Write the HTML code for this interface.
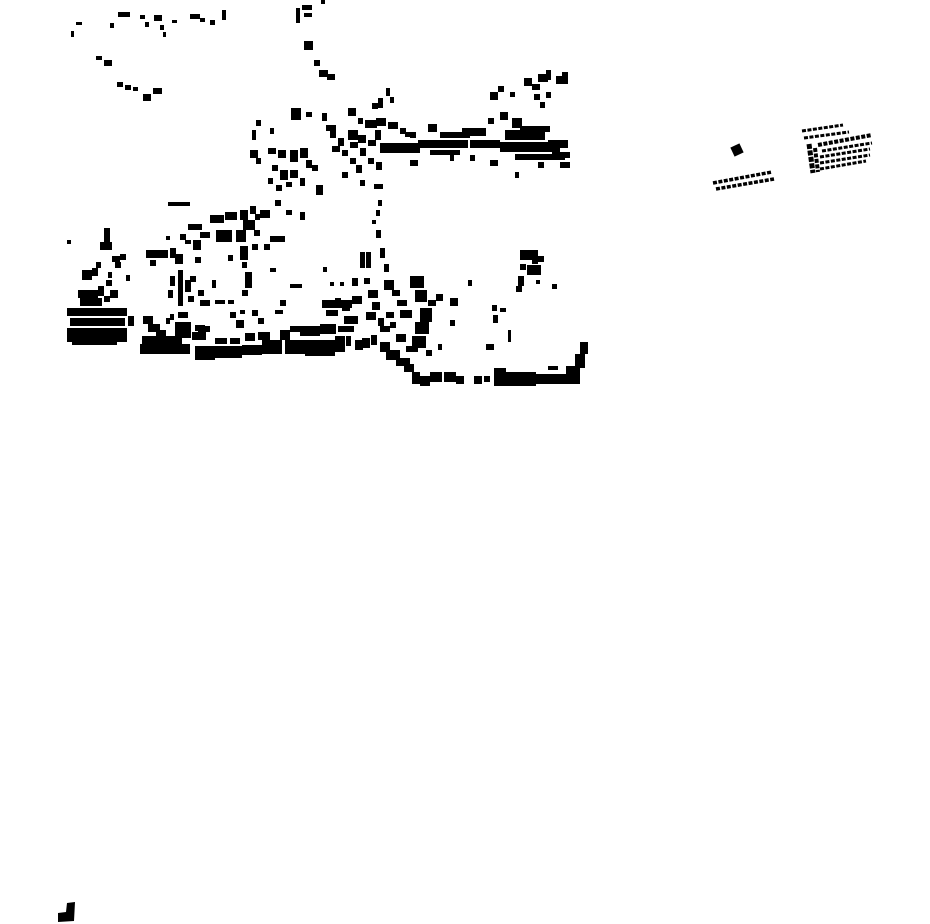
<!DOCTYPE html>
<html><head><meta charset="utf-8"><style>html,body{margin:0;padding:0;background:#fff}svg{display:block}</style></head>
<body>
<svg width="930" height="924" viewBox="0 0 930 924" xmlns="http://www.w3.org/2000/svg">
<g fill="#000">
<!-- top-left sparse -->
<rect x="71" y="31" width="3" height="6"/><rect x="76" y="22" width="6" height="3"/><rect x="110" y="23" width="4" height="5"/><rect x="118" y="12" width="12" height="5"/><rect x="140" y="15" width="5" height="4"/><rect x="145" y="22" width="4" height="5"/><rect x="154" y="15" width="8" height="6"/><rect x="160" y="25" width="4" height="5"/><rect x="163" y="32" width="3" height="5"/><rect x="172" y="20" width="5" height="3"/><rect x="190" y="14" width="10" height="5"/><rect x="200" y="18" width="5" height="4"/><rect x="210" y="20" width="5" height="5"/><rect x="222" y="10" width="4" height="10"/>
<rect x="96" y="56" width="6" height="4"/><rect x="104" y="60" width="8" height="6"/><rect x="117" y="82" width="6" height="5"/><rect x="125" y="85" width="6" height="5"/><rect x="133" y="87" width="5" height="4"/><rect x="143" y="94" width="8" height="7"/><rect x="153" y="88" width="9" height="6"/>
<rect x="296" y="8" width="4" height="15"/><rect x="302" y="5" width="10" height="5"/><rect x="304" y="13" width="8" height="4"/><rect x="321" y="0" width="4" height="4"/><rect x="304" y="41" width="9" height="9"/><rect x="314" y="60" width="6" height="6"/><rect x="319" y="70" width="9" height="7"/><rect x="327" y="74" width="8" height="6"/>
<!-- central upper cluster -->
<rect x="291" y="108" width="10" height="12"/><rect x="306" y="112" width="6" height="5"/><rect x="322" y="113" width="5" height="8"/><rect x="326" y="125" width="10" height="6"/><rect x="348" y="108" width="8" height="8"/><rect x="358" y="118" width="5" height="6"/><rect x="365" y="120" width="12" height="8"/><rect x="376" y="118" width="10" height="8"/><rect x="372" y="103" width="6" height="6"/><rect x="378" y="98" width="5" height="10"/><rect x="386" y="88" width="4" height="8"/><rect x="390" y="97" width="4" height="6"/><rect x="388" y="122" width="10" height="7"/><rect x="400" y="128" width="6" height="6"/><rect x="405" y="132" width="6" height="5"/>
<rect x="256" y="120" width="5" height="6"/><rect x="252" y="130" width="4" height="10"/><rect x="250" y="150" width="8" height="8"/><rect x="256" y="158" width="5" height="6"/><rect x="270" y="128" width="4" height="6"/><rect x="268" y="148" width="8" height="6"/><rect x="278" y="150" width="8" height="8"/><rect x="290" y="150" width="8" height="12"/><rect x="300" y="148" width="8" height="10"/><rect x="306" y="160" width="6" height="8"/><rect x="272" y="165" width="6" height="6"/><rect x="280" y="170" width="8" height="10"/><rect x="290" y="170" width="8" height="8"/><rect x="268" y="178" width="5" height="6"/><rect x="276" y="185" width="6" height="6"/><rect x="286" y="182" width="6" height="5"/><rect x="300" y="178" width="5" height="8"/><rect x="316" y="185" width="7" height="10"/><rect x="312" y="165" width="6" height="6"/><rect x="275" y="200" width="6" height="6"/><rect x="286" y="210" width="6" height="5"/><rect x="300" y="212" width="5" height="8"/>
<rect x="330" y="130" width="6" height="8"/><rect x="338" y="138" width="6" height="8"/><rect x="332" y="146" width="8" height="6"/><rect x="342" y="150" width="6" height="6"/><rect x="348" y="130" width="10" height="10"/><rect x="350" y="142" width="8" height="6"/><rect x="358" y="135" width="8" height="8"/><rect x="360" y="148" width="6" height="8"/><rect x="368" y="140" width="8" height="6"/><rect x="375" y="130" width="6" height="10"/><rect x="380" y="145" width="6" height="8"/><rect x="350" y="158" width="6" height="6"/><rect x="356" y="165" width="6" height="8"/><rect x="368" y="158" width="6" height="6"/><rect x="376" y="162" width="6" height="8"/><rect x="342" y="172" width="6" height="6"/><rect x="360" y="180" width="5" height="6"/><rect x="374" y="184" width="9" height="5"/><rect x="378" y="200" width="4" height="6"/><rect x="376" y="210" width="4" height="6"/><rect x="372" y="220" width="4" height="4"/>
<rect x="380" y="143" width="40" height="10"/><rect x="410" y="132" width="6" height="6"/><rect x="428" y="124" width="9" height="8"/><rect x="410" y="160" width="8" height="6"/>
<!-- east strip -->
<rect x="418" y="140" width="50" height="8"/><rect x="440" y="132" width="30" height="6"/><rect x="462" y="128" width="24" height="8"/><rect x="470" y="140" width="30" height="8"/><rect x="430" y="150" width="30" height="5"/><rect x="488" y="118" width="6" height="6"/><rect x="500" y="112" width="8" height="8"/><rect x="512" y="118" width="10" height="10"/><rect x="505" y="130" width="40" height="10"/><rect x="500" y="142" width="60" height="10"/><rect x="515" y="154" width="50" height="6"/><rect x="520" y="126" width="30" height="6"/><rect x="548" y="140" width="20" height="8"/><rect x="552" y="152" width="18" height="6"/><rect x="560" y="162" width="10" height="6"/><rect x="490" y="160" width="8" height="6"/><rect x="515" y="172" width="4" height="6"/><rect x="538" y="162" width="6" height="6"/><rect x="470" y="155" width="5" height="6"/><rect x="450" y="155" width="4" height="6"/>
<rect x="490" y="92" width="8" height="8"/><rect x="498" y="86" width="6" height="6"/><rect x="510" y="92" width="5" height="5"/><rect x="524" y="78" width="8" height="8"/><rect x="532" y="84" width="8" height="6"/><rect x="538" y="74" width="10" height="8"/><rect x="546" y="70" width="5" height="10"/><rect x="556" y="76" width="12" height="8"/><rect x="562" y="72" width="6" height="6"/><rect x="534" y="94" width="6" height="6"/><rect x="540" y="102" width="5" height="6"/><rect x="546" y="92" width="5" height="6"/>
<!-- middle west -->
<rect x="168" y="202" width="22" height="4"/><rect x="210" y="215" width="14" height="8"/><rect x="225" y="212" width="12" height="8"/><rect x="240" y="210" width="8" height="10"/><rect x="250" y="206" width="6" height="8"/><rect x="255" y="214" width="5" height="6"/><rect x="260" y="210" width="10" height="8"/><rect x="188" y="224" width="14" height="6"/><rect x="200" y="232" width="10" height="6"/><rect x="216" y="230" width="16" height="12"/><rect x="236" y="230" width="10" height="12"/><rect x="243" y="220" width="12" height="10"/><rect x="254" y="230" width="6" height="6"/><rect x="264" y="244" width="6" height="6"/><rect x="252" y="244" width="6" height="6"/><rect x="270" y="236" width="8" height="6"/><rect x="278" y="236" width="7" height="6"/><rect x="240" y="246" width="8" height="14"/><rect x="242" y="262" width="5" height="6"/><rect x="245" y="272" width="7" height="16"/><rect x="242" y="290" width="6" height="6"/><rect x="228" y="255" width="5" height="6"/><rect x="166" y="236" width="4" height="4"/><rect x="180" y="234" width="6" height="6"/><rect x="185" y="240" width="6" height="4"/>
<rect x="146" y="250" width="22" height="8"/><rect x="150" y="260" width="6" height="6"/><rect x="170" y="248" width="6" height="10"/><rect x="175" y="254" width="8" height="10"/><rect x="178" y="270" width="5" height="36"/><rect x="170" y="276" width="5" height="10"/><rect x="168" y="290" width="5" height="8"/><rect x="185" y="280" width="6" height="12"/><rect x="188" y="296" width="6" height="6"/><rect x="193" y="240" width="8" height="10"/><rect x="195" y="257" width="6" height="6"/><rect x="190" y="276" width="6" height="6"/><rect x="198" y="290" width="6" height="6"/><rect x="200" y="300" width="10" height="6"/><rect x="212" y="280" width="4" height="8"/><rect x="215" y="300" width="10" height="4"/><rect x="228" y="300" width="6" height="4"/><rect x="230" y="312" width="6" height="6"/><rect x="240" y="310" width="5" height="4"/><rect x="252" y="310" width="6" height="6"/><rect x="270" y="268" width="6" height="4"/><rect x="280" y="300" width="6" height="6"/><rect x="275" y="310" width="8" height="4"/><rect x="290" y="284" width="6" height="4"/><rect x="296" y="284" width="6" height="4"/>
<rect x="100" y="242" width="12" height="8"/><rect x="104" y="228" width="6" height="14"/><rect x="112" y="256" width="8" height="6"/><rect x="120" y="254" width="6" height="6"/><rect x="115" y="262" width="6" height="6"/><rect x="96" y="262" width="5" height="6"/><rect x="82" y="270" width="10" height="10"/><rect x="92" y="268" width="6" height="8"/><rect x="78" y="290" width="20" height="8"/><rect x="98" y="286" width="6" height="10"/><rect x="80" y="298" width="22" height="8"/><rect x="104" y="296" width="6" height="6"/><rect x="110" y="290" width="8" height="8"/><rect x="67" y="240" width="4" height="4"/><rect x="108" y="272" width="4" height="6"/><rect x="126" y="275" width="4" height="6"/><rect x="106" y="280" width="6" height="6"/>
<!-- left dense block -->
<rect x="67" y="308" width="60" height="8"/><rect x="70" y="318" width="55" height="8"/><rect x="67" y="328" width="60" height="14"/><rect x="72" y="342" width="45" height="3"/><rect x="128" y="316" width="6" height="10"/><rect x="105" y="320" width="16" height="6"/>
<!-- main bottom strip -->
<rect x="143" y="316" width="10" height="8"/><rect x="148" y="324" width="12" height="8"/><rect x="156" y="330" width="10" height="6"/><rect x="142" y="336" width="40" height="10"/><rect x="140" y="344" width="50" height="10"/><rect x="166" y="318" width="4" height="6"/><rect x="170" y="314" width="4" height="6"/><rect x="178" y="312" width="10" height="6"/><rect x="175" y="322" width="16" height="16"/><rect x="192" y="332" width="14" height="8"/><rect x="195" y="325" width="10" height="6"/><rect x="195" y="346" width="20" height="14"/><rect x="215" y="338" width="12" height="6"/><rect x="212" y="346" width="30" height="12"/><rect x="230" y="338" width="10" height="6"/><rect x="242" y="345" width="20" height="10"/><rect x="245" y="333" width="10" height="8"/><rect x="258" y="332" width="12" height="8"/><rect x="262" y="340" width="20" height="14"/><rect x="280" y="330" width="10" height="10"/><rect x="285" y="340" width="20" height="14"/><rect x="290" y="326" width="10" height="6"/><rect x="300" y="326" width="20" height="10"/><rect x="305" y="340" width="30" height="16"/><rect x="320" y="324" width="16" height="10"/><rect x="335" y="336" width="10" height="16"/><rect x="338" y="326" width="16" height="6"/><rect x="346" y="336" width="5" height="10"/><rect x="355" y="340" width="8" height="10"/><rect x="362" y="338" width="8" height="10"/><rect x="371" y="335" width="6" height="10"/><rect x="198" y="326" width="12" height="6"/><rect x="236" y="320" width="8" height="8"/><rect x="258" y="318" width="6" height="6"/>
<rect x="322" y="300" width="30" height="8"/><rect x="326" y="310" width="12" height="6"/><rect x="335" y="298" width="6" height="6"/><rect x="344" y="316" width="14" height="8"/><rect x="352" y="296" width="10" height="8"/><rect x="342" y="305" width="8" height="6"/><rect x="323" y="267" width="4" height="5"/><rect x="330" y="282" width="4" height="4"/><rect x="340" y="282" width="4" height="4"/><rect x="352" y="278" width="6" height="8"/><rect x="364" y="278" width="6" height="6"/><rect x="360" y="252" width="5" height="16"/><rect x="366" y="252" width="5" height="16"/><rect x="380" y="248" width="5" height="10"/><rect x="376" y="230" width="5" height="8"/><rect x="384" y="264" width="5" height="8"/><rect x="368" y="290" width="10" height="8"/><rect x="372" y="302" width="8" height="8"/><rect x="366" y="312" width="10" height="8"/><rect x="378" y="318" width="6" height="8"/>
<!-- east middle cluster -->
<rect x="384" y="280" width="10" height="10"/><rect x="392" y="290" width="8" height="6"/><rect x="397" y="300" width="10" height="6"/><rect x="400" y="310" width="12" height="8"/><rect x="410" y="276" width="14" height="12"/><rect x="415" y="290" width="12" height="12"/><rect x="428" y="300" width="8" height="6"/><rect x="420" y="308" width="12" height="14"/><rect x="415" y="322" width="14" height="12"/><rect x="412" y="336" width="14" height="12"/><rect x="406" y="346" width="12" height="6"/><rect x="386" y="312" width="8" height="6"/><rect x="380" y="326" width="10" height="6"/><rect x="390" y="322" width="6" height="6"/><rect x="396" y="334" width="10" height="8"/><rect x="436" y="294" width="7" height="7"/><rect x="450" y="298" width="8" height="8"/><rect x="450" y="320" width="5" height="6"/><rect x="438" y="344" width="4" height="6"/><rect x="426" y="350" width="6" height="6"/><rect x="468" y="280" width="4" height="6"/><rect x="492" y="305" width="5" height="6"/><rect x="493" y="315" width="5" height="8"/><rect x="500" y="308" width="6" height="4"/><rect x="508" y="330" width="3" height="12"/><rect x="486" y="344" width="8" height="6"/>
<rect x="380" y="342" width="10" height="10"/><rect x="386" y="350" width="14" height="10"/><rect x="396" y="358" width="14" height="8"/><rect x="404" y="364" width="10" height="8"/><rect x="412" y="372" width="8" height="12"/><rect x="420" y="376" width="10" height="10"/><rect x="430" y="372" width="12" height="10"/><rect x="444" y="372" width="12" height="10"/><rect x="456" y="376" width="8" height="8"/><rect x="474" y="376" width="8" height="8"/><rect x="484" y="376" width="6" height="6"/><rect x="494" y="368" width="12" height="18"/><rect x="506" y="372" width="30" height="14"/><rect x="536" y="374" width="30" height="10"/><rect x="548" y="366" width="10" height="4"/><rect x="566" y="366" width="14" height="18"/><rect x="575" y="354" width="10" height="14"/><rect x="580" y="342" width="8" height="12"/>
<rect x="520" y="250" width="12" height="10"/><rect x="532" y="250" width="6" height="14"/><rect x="538" y="256" width="6" height="6"/><rect x="520" y="264" width="6" height="6"/><rect x="527" y="265" width="14" height="10"/><rect x="518" y="276" width="6" height="10"/><rect x="516" y="286" width="6" height="6"/><rect x="536" y="280" width="4" height="4"/><rect x="552" y="284" width="5" height="5"/>
<!-- right -->
<rect x="732" y="145" width="10" height="10" transform="rotate(-25 737 150)"/>
<!-- bottom-left -->
<path d="M67 903 L75 902 L74 921 L58 922 L58 913 L66 912 Z"/>
</g>
<g stroke="#000" fill="none" stroke-dasharray="4 1.5">
<line x1="713" y1="183" x2="772" y2="172" stroke-width="3.5"/>
<line x1="716" y1="189" x2="774" y2="179" stroke-width="3.5"/>
<line x1="802" y1="131" x2="843" y2="125" stroke-width="3"/>
<line x1="804" y1="138" x2="849" y2="132" stroke-width="3"/>
<line x1="818" y1="145" x2="872" y2="135" stroke-width="4"/>
<line x1="822" y1="151" x2="872" y2="143" stroke-width="3"/>
<line x1="820" y1="157" x2="870" y2="149" stroke-width="3"/>
<line x1="820" y1="163" x2="870" y2="155" stroke-width="3"/>
<line x1="820" y1="169" x2="866" y2="161" stroke-width="3"/>
<line x1="809" y1="144" x2="813" y2="173" stroke-width="5" stroke-dasharray="5 1.5"/>
<line x1="815" y1="148" x2="818" y2="172" stroke-width="4"/>
</g>
</svg>
</body></html>
